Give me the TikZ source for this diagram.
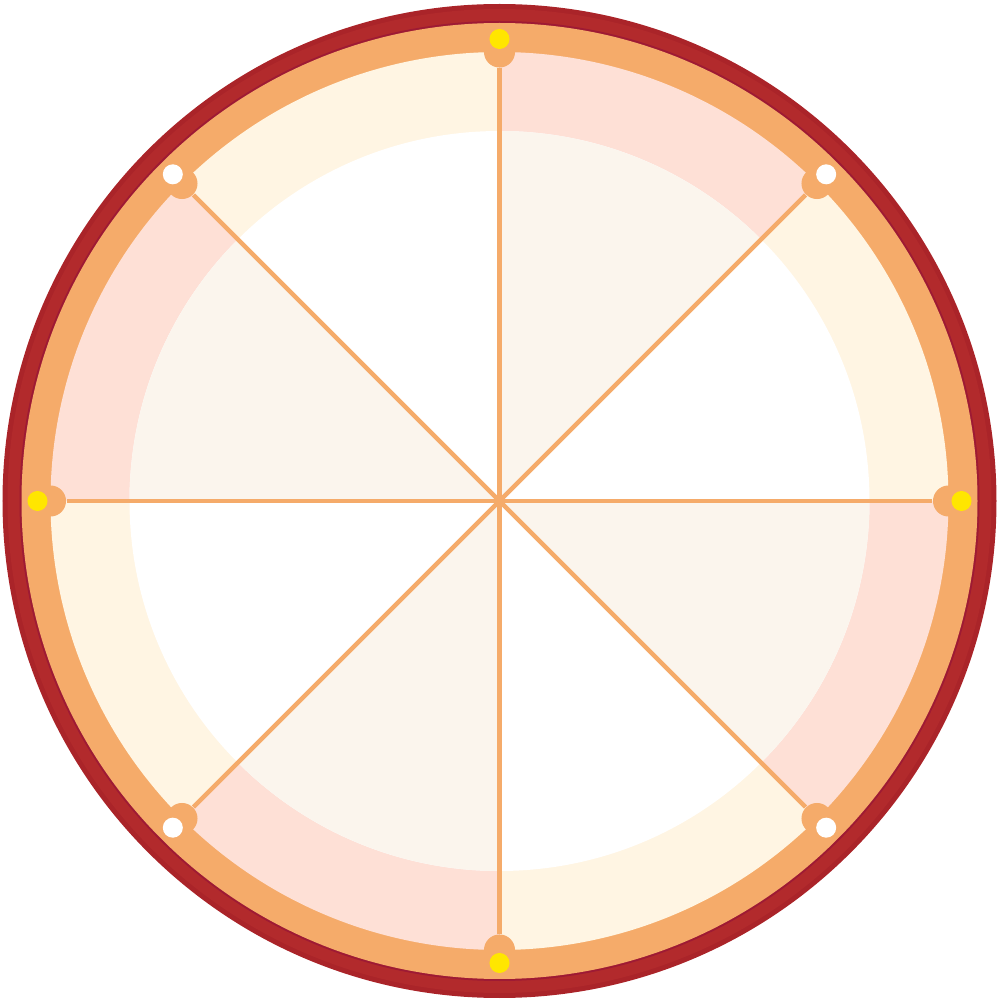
\documentclass[tikz,border=0pt]{standalone}
\usepackage{xcolor}
\definecolor{wheelred}{RGB}{178,42,44}
\definecolor{wheeldark}{RGB}{170,36,41}
\definecolor{wheelcrimson}{RGB}{158,26,52}
\definecolor{wheelorange}{RGB}{245,171,106}
\definecolor{wheelcream}{RGB}{255,245,227}
\definecolor{wheelpink}{RGB}{254,224,214}
\definecolor{wheelbeige}{RGB}{251,245,237}
\definecolor{wheelyellow}{RGB}{255,230,0}
\usetikzlibrary{calc}

\begin{document}
\begin{tikzpicture}[x=0.01cm,y=0.01cm,
  bump/.style={circle, fill=wheelorange, inner sep=0pt, minimum size=0.31cm},
  pin/.style={circle, inner sep=0pt, minimum size=0.2cm}]
  \useasboundingbox (0,0) rectangle (999,1002);
  \coordinate (ctr) at (499.5,501);

  % --- rim ---
  \fill[wheeldark] (ctr) circle (497);
  \fill[wheelred] (ctr) circle (492);
  \fill[wheelcrimson] (ctr) circle (480);
  \fill[wheelorange] (ctr) circle (478);

  % --- ring segments ---
  \foreach \a in {0,90,180,270} {
    \fill[wheelcream] (ctr) -- ++(\a:449) arc (\a:\a+45:449) -- cycle;
    \fill[wheelpink] (ctr) -- ++(\a+45:449) arc (\a+45:\a+90:449) -- cycle;
  }

  % --- inner disk ---
  \fill[white] (ctr) circle (370);
  \foreach \a in {45,135,225,315}
    \fill[wheelbeige] (ctr) -- ++(\a:370) arc (\a:\a+45:370) -- cycle;

  % --- spokes ---
  \foreach \i in {0,...,7}
    \node[bump] (b\i) at ($(ctr)+(\i*45:449)$) {};
  \foreach \i in {0,...,7}
    \draw[wheelorange, line width=1.3pt] (ctr) -- (b\i);

  % --- pins ---
  \foreach \i/\c in {0/wheelyellow,1/white,2/wheelyellow,3/white,4/wheelyellow,5/white,6/wheelyellow,7/white}
    \node[pin, fill=\c] (p\i) at ($(ctr)+(\i*45:462)$) {};
\end{tikzpicture}
\end{document}
